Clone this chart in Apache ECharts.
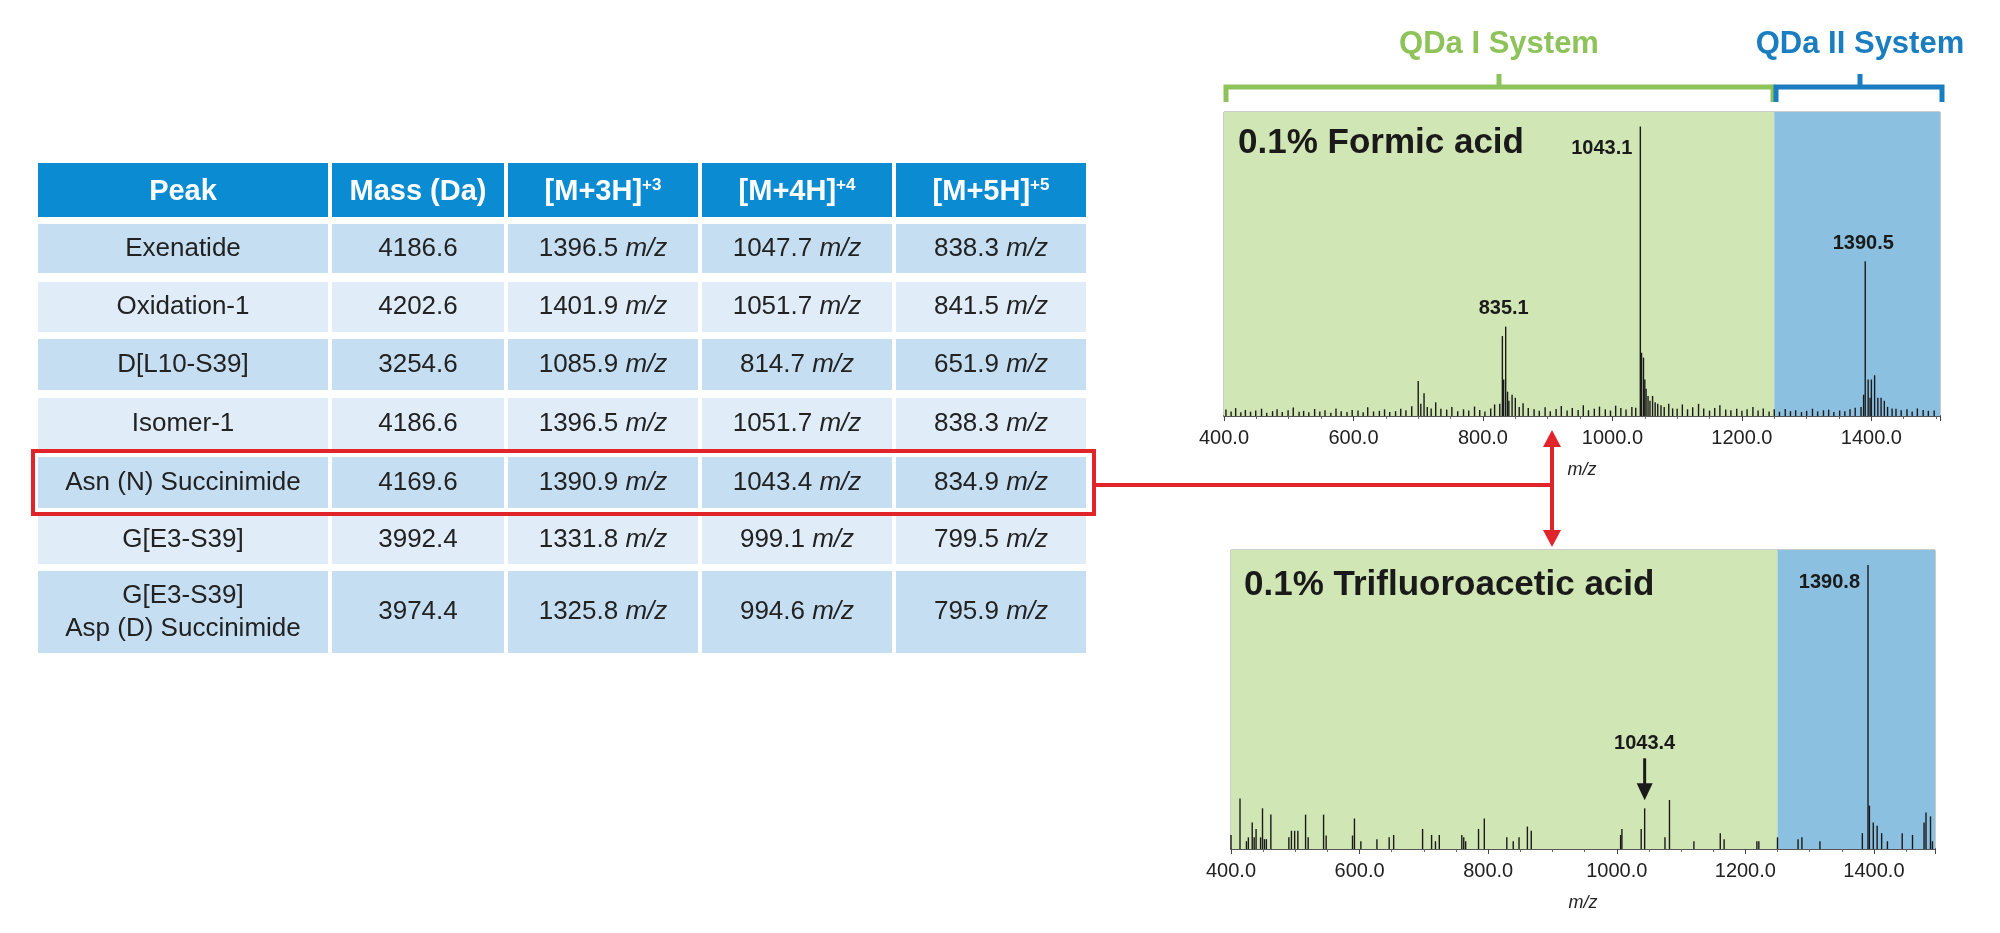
<!DOCTYPE html>
<html><head><meta charset="utf-8">
<script src="https://cdn.jsdelivr.net/npm/echarts@6/dist/echarts.min.js"></script>
<style>html,body{margin:0;padding:0;background:#fff}#c{width:2000px;height:933px}</style>
</head><body><div id="c"></div>
<script>
// ---- table data ----
const headers = ['Peak','Mass (Da)','[M+3H]','[M+4H]','[M+5H]'];
const headerSup = ['','','+3','+4','+5'];
const peakNames = ['Exenatide','Oxidation-1','D[L10-S39]','Isomer-1','Asn (N) Succinimide','G[E3-S39]','G[E3-S39]\nAsp (D) Succinimide'];
const masses = ['4186.6','4202.6','3254.6','4186.6','4169.6','3992.4','3974.4'];
const mz3 = ['1396.5','1401.9','1085.9','1396.5','1390.9','1331.8','1325.8'];
const mz4 = ['1047.7','1051.7','814.7','1051.7','1043.4','999.1','994.6'];
const mz5 = ['838.3','841.5','651.9','838.3','834.9','799.5','795.9'];
// ---- top spectrum (0.1% Formic acid) ----
const topMz  = [700,704,709,714,720,826,830,832,835.1,838,840,845,850,856,1043.1,1045,1048,1050,1052,1055,1058,1062,1066,1070,1075,1080,1087,1093,1384,1388,1390.5,1395,1398,1400,1405,1410,1415,1420,1425,1432];
const topInt = [11.5,4,7.5,3,2.5,4,26.3,12,29.4,8,5,7,6,3,95.2,20.8,19.2,12,9,6.6,5,6.6,4.5,4,3.5,3,4,2.5,3,7,50.9,12,6,12,13.4,6,6,5,3,2.5];
const noiseMz  = [403,411,418,426,433,441,449,458,466,475,482,490,499,507,516,523,531,540,548,556,565,573,581,590,598,607,615,622,631,640,648,656,665,673,681,690,727,735,744,752,761,770,778,787,795,803,812,818,862,870,879,887,896,904,913,921,930,938,947,955,963,972,980,989,997,1005,1013,1021,1030,1036,1100,1108,1116,1124,1133,1141,1150,1158,1166,1175,1183,1192,1200,1208,1217,1225,1233,1242,1250,1258,1267,1275,1283,1292,1300,1309,1317,1326,1334,1342,1351,1359,1367,1375,1438,1446,1455,1463,1471,1480,1488,1497];
const noiseInt = [2.1,1.5,2.6,1.2,2,1.4,1.8,2.4,1.1,1.6,2.2,1.3,1.9,2.8,1.4,1.7,1.2,2.3,1.5,1.9,1.1,2.5,1.6,1.3,2,1.8,1.2,2.9,1.5,1.7,2.2,1.3,1.6,2.4,1.9,3.2,4.5,2.4,2.1,3,1.6,2.2,1.8,3.1,2,1.5,2.5,3.8,4.2,2.6,2.2,1.7,2.9,1.6,2.3,3.3,1.8,2.6,2,3.5,1.9,2.4,3.1,2.2,1.8,3.4,2.6,2.1,3,2.7,2.4,3.8,2.2,2.9,4,2.5,1.8,2.6,3.5,2.1,1.9,2.4,1.7,2.2,3,1.8,2.5,1.5,2.2,1.4,2.3,1.6,1.9,1.3,1.7,2.4,1.5,1.9,2.1,1.3,1.8,1.6,2.2,2.7,2.4,1.9,2.2,1.5,2.5,2,1.7,1.8];
// ---- bottom spectrum (0.1% Trifluoroacetic acid) ----
const botMz  = [400,414,424,427,433,436,439,446,449,452,455,462,490,494,499,504,516,520,544,548,589,592,602,627,646,653,698,712,718,724,759,762,765,785,794,829,839,848,861,867,1006,1008,1038,1043.4,1075,1082,1120,1161,1167,1218,1221,1250,1282,1288,1316,1382,1390.8,1393,1399,1405,1412,1421,1444,1460,1478,1481,1488,1491];
const botInt = [4.7,16.9,2.6,3.9,8.9,3.9,6.7,3.9,13.6,3.3,3.3,11.5,3.9,6.1,6.1,6.1,11.5,3.9,11.5,4.5,4.5,10.2,2.6,3.3,3.9,4.7,6.7,4.7,2.6,4.7,4.7,3.9,2.6,6.7,10.2,3.9,2.6,3.9,7.5,6.1,4.7,6.7,6.7,13.6,3.9,16.4,2.6,5.3,3.3,2.6,2.6,3.9,3.3,3.9,2.6,5.3,95,14.5,8.9,7.8,5.3,2.6,5.3,4.7,8.9,12.2,10.9,2.6];
const splitMz = 1250;
const topLabels = [[1043.1,'1043.1','left'],[835.1,'835.1','top'],[1390.5,'1390.5','top']];

const FONT = 'Liberation Sans, Arial, sans-serif';
const chart = echarts.init(document.getElementById('c'));
const pairs = (a,b)=>a.map((v,i)=>[v,b[i]]);

function xAxis(gi,max){return {type:'value',gridIndex:gi,min:400,max:max,interval:200,
  axisLine:{lineStyle:{color:'#555',width:2}},axisTick:{length:5,lineStyle:{color:'#444'}},
  minorTick:{show:true,splitNumber:4,length:3,lineStyle:{color:'#666'}},
  splitLine:{show:false},
  axisLabel:{formatter:v=>v.toFixed(1),color:'#222',fontSize:20,fontFamily:FONT,margin:12,showMaxLabel:false},
  name:'m/z',nameLocation:'middle',nameGap:45,nameTextStyle:{fontStyle:'italic',fontSize:18,color:'#222',fontFamily:FONT}};}
function yAxis(gi){return {type:'value',gridIndex:gi,min:0,max:100,show:false};}
function bg(max){return {silent:true,data:[[{xAxis:400,itemStyle:{color:'#d0e6b4'}},{xAxis:splitMz}],[{xAxis:splitMz,itemStyle:{color:'#8cc0e0'}},{xAxis:max}]]};}

const g = [];
const colX = [38,330,506,700,894,1088];
const rowY = [[163,217],[224,273],[282,332],[339,390],[398,449],[457,508],[515,564],[571,653]];
for(let c=0;c<5;c++){
  const x0=colX[c]+(c?2:0), x1=colX[c+1]-2;
  g.push({type:'rect',shape:{x:x0,y:rowY[0][0],width:x1-x0,height:rowY[0][1]-rowY[0][0]},style:{fill:'#0a8bd2'}});
  g.push({type:'text',style:{x:(x0+x1)/2,y:(rowY[0][0]+rowY[0][1])/2+2,align:'center',verticalAlign:'middle',
    text:'{h|'+headers[c]+'}'+(headerSup[c]?'{s|'+headerSup[c]+'}':''),
    rich:{h:{fontSize:29,fontWeight:'bold',fill:'#fff',fontFamily:FONT},s:{fontSize:17,fontWeight:'bold',fill:'#fff',fontFamily:FONT,verticalAlign:'top',padding:[0,0,14,0]}}}});
  for(let r=0;r<7;r++){
    const y0=rowY[r+1][0], y1=rowY[r+1][1];
    g.push({type:'rect',shape:{x:x0,y:y0,width:x1-x0,height:y1-y0},style:{fill:(r%2===0)?'#c6def2':'#e0edf9'}});
    let txt;
    if(c===0) txt=peakNames[r].split('\n').map(s=>'{n|'+s+'}').join('\n');
    else if(c===1) txt='{n|'+masses[r]+'}';
    else txt='{n|'+[mz3,mz4,mz5][c-2][r]+' }{i|m/z}';
    g.push({type:'text',style:{x:(x0+x1)/2,y:(y0+y1)/2,align:'center',verticalAlign:'middle',text:txt,
      rich:{n:{fontSize:26,fill:'#222',fontFamily:FONT,lineHeight:33},i:{fontSize:26,fill:'#222',fontStyle:'italic',fontFamily:FONT,lineHeight:33}}}});
  }
}
g.push({type:'rect',shape:{x:33,y:451,width:1061,height:63},style:{fill:'none',stroke:'#e0242a',lineWidth:4},z:10});
g.push({type:'line',shape:{x1:1094,y1:485,x2:1552,y2:485},style:{stroke:'#e0242a',lineWidth:4},z:10});
g.push({type:'line',shape:{x1:1552,y1:445,x2:1552,y2:532},style:{stroke:'#e0242a',lineWidth:4},z:10});
g.push({type:'polygon',shape:{points:[[1552,430],[1543,447],[1561,447]]},style:{fill:'#e0242a'},z:10});
g.push({type:'polygon',shape:{points:[[1552,547],[1543,530],[1561,530]]},style:{fill:'#e0242a'},z:10});
function bracket(x0,x1,xm,color,label){
  g.push({type:'polyline',shape:{points:[[x0,102],[x0,87],[x1,87],[x1,102]]},style:{stroke:color,lineWidth:5,fill:'none'}});
  g.push({type:'line',shape:{x1:xm,y1:87,x2:xm,y2:74},style:{stroke:color,lineWidth:5}});
  g.push({type:'text',style:{x:xm,y:44,align:'center',verticalAlign:'middle',text:label,fontSize:31,fontWeight:'bold',fill:color,fontFamily:FONT}});
}
bracket(1226,1773,1499,'#8dc35a','QDa I System');
bracket(1776,1942,1860,'#1a7dc0','QDa II System');
g.push({type:'text',style:{x:1238,y:143,verticalAlign:'middle',text:'0.1% Formic acid',fontSize:35,fontWeight:'bold',fill:'#1a1a1a',fontFamily:FONT},z:20});
g.push({type:'text',style:{x:1244,y:585,verticalAlign:'middle',text:'0.1% Trifluoroacetic acid',fontSize:35,fontWeight:'bold',fill:'#1a1a1a',fontFamily:FONT},z:20});

const barStyle = {type:'bar',barWidth:1.4,itemStyle:{color:'#1a1a1a'},barGap:'-100%',animation:false,silent:true};
chart.setOption({
  animation:false,
  grid:[{left:1224,top:112,width:716,height:304,show:true,borderColor:'#999',borderWidth:1,backgroundColor:'transparent'},
        {left:1231,top:550,width:704,height:299,show:true,borderColor:'#999',borderWidth:1}],
  xAxis:[xAxis(0,1506),xAxis(1,1495)],
  yAxis:[yAxis(0),yAxis(1)],
  series:[
    Object.assign({},barStyle,{xAxisIndex:0,yAxisIndex:0,data:pairs(noiseMz,noiseInt),markArea:bg(1506)}),
    Object.assign({},barStyle,{xAxisIndex:0,yAxisIndex:0,data:pairs(topMz,topInt)}),
    Object.assign({},barStyle,{xAxisIndex:1,yAxisIndex:1,data:pairs(botMz,botInt),markArea:bg(1495)})
  ],
  graphic:g
});
const extra = [];
topLabels.forEach(([mz,t,pos])=>{
  const idx = topMz.indexOf(mz);
  const p = chart.convertToPixel({gridIndex:0},[mz,topInt[idx]]);
  if(pos==='left') extra.push({type:'text',style:{x:p[0]-8,y:p[1]+22,align:'right',verticalAlign:'middle',text:t,fontSize:20,fontWeight:'bold',fill:'#1a1a1a',fontFamily:FONT},z:20});
  else extra.push({type:'text',style:{x:p[0]-2,y:p[1]-18,align:'center',verticalAlign:'middle',text:t,fontSize:20,fontWeight:'bold',fill:'#1a1a1a',fontFamily:FONT},z:20});
});
{
  const i = botMz.indexOf(1390.8);
  const p = chart.convertToPixel({gridIndex:1},[1390.8,botInt[i]]);
  extra.push({type:'text',style:{x:p[0]-8,y:p[1]+18,align:'right',verticalAlign:'middle',text:'1390.8',fontSize:20,fontWeight:'bold',fill:'#1a1a1a',fontFamily:FONT},z:20});
  const j = botMz.indexOf(1043.4);
  const q = chart.convertToPixel({gridIndex:1},[1043.4,botInt[j]]);
  extra.push({type:'line',shape:{x1:q[0],y1:q[1]-50,x2:q[0],y2:q[1]-20},style:{stroke:'#1a1a1a',lineWidth:3},z:20});
  extra.push({type:'polygon',shape:{points:[[q[0],q[1]-8],[q[0]-8,q[1]-25],[q[0]+8,q[1]-25]]},style:{fill:'#1a1a1a'},z:20});
  extra.push({type:'text',style:{x:q[0],y:q[1]-65,align:'center',verticalAlign:'middle',text:'1043.4',fontSize:20,fontWeight:'bold',fill:'#1a1a1a',fontFamily:FONT},z:20});
}
chart.setOption({graphic:g.concat(extra)});
</script></body></html>
